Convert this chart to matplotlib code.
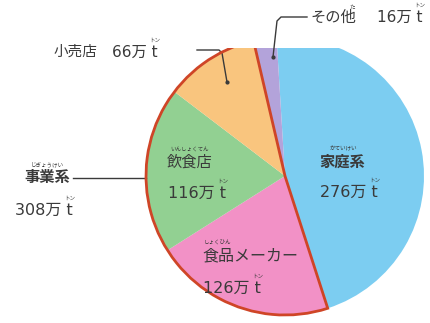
import matplotlib
matplotlib.use("Agg")
import matplotlib.pyplot as plt
from matplotlib.patches import Wedge, Rectangle

plt.rcParams['font.family'] = ['Noto Sans CJK JP', 'DejaVu Sans']

# データ（万t）
labels = ['家庭系', '食品メーカー', '飲食店', '小売店', 'その他']
values = [276, 126, 116, 66, 16]
colors = ['#7ccdf1', '#f291c6', '#92d092', '#f9c57e', '#b3a3da']
business = ['食品メーカー', '飲食店', '小売店']
business_total = 308

W, H = 430, 323
TXT = '#3a3a3a'
RED = '#cf4527'
NUM_FONT = ['DejaVu Sans', 'Noto Sans CJK JP']

fig = plt.figure(figsize=(W / 100, H / 100), dpi=100)
ax = fig.add_axes([0, 0, 1, 1])

def Y(y):
    return H - y

cx, cy, r = 285, Y(176), 139
start = 93.5
wedges, _ = ax.pie(values, colors=colors, startangle=start, counterclock=False,
                   center=(cx, cy), radius=r, wedgeprops=dict(linewidth=0))
ax.set_xlim(0, W)
ax.set_ylim(0, H)
ax.set_aspect('equal')
ax.axis('off')

clip = Rectangle((0, 0), W, Y(48), transform=ax.transData)
for w in wedges:
    w.set_clip_on(True)
    w.set_clip_path(clip)

# 事業系の赤い枠
total = sum(values)
blue_end = start - 360 * values[0] / total
biz_sum = sum(v for l, v in zip(labels, values) if l in business)
biz_end = blue_end - 360 * biz_sum / total
outline = Wedge((cx, cy), r, biz_end + 360, blue_end + 360, fill=False,
                edgecolor=RED, linewidth=2, zorder=3)
ax.add_patch(outline)
outline.set_clip_on(True)
outline.set_clip_path(clip)

def t(x, y, s, size=11, ha='center', **kw):
    ax.text(x, Y(y), s, fontsize=size, color=TXT, ha=ha, va='center', **kw)

def ruby(x, y, s):
    ax.text(x, Y(y), s, fontsize=4, color=TXT, ha='center', va='center')

def amount(x, y, v, size=12):
    txt = ax.text(x, Y(y), f'{v}万 t', fontsize=size, color=TXT, ha='left',
                  va='center', family=NUM_FONT)
    fig.canvas.draw()
    bb = txt.get_window_extent()
    ruby(bb.x1 - 3, y - 12, 'トン')

# 内側のラベル
t(342, 162, labels[0], 11, fontweight='bold')
ruby(343, 148, 'かていけい')
amount(320, 192, values[0], 11.5)

t(250, 256, labels[1], 11.5)
ruby(217, 243, 'しょくひん')
amount(203, 288, values[1], 11.5)

t(190, 162, labels[2], 11)
ruby(190, 150, 'いんしょくてん')
amount(168, 193, values[2], 11.5)

# 外側のラベル
t(75, 52, labels[3], 10.5)
amount(112, 52, values[3], 11)
ax.plot([197, 219, 222, 227], [Y(50), Y(50), Y(53), Y(82)], color=TXT, lw=1)
ax.plot(227, Y(82), 'o', color=TXT, ms=2)

t(333, 17, labels[4], 11)
ruby(352, 7, 'た')
amount(377, 17, values[4], 11)
ax.plot([307, 281, 277, 273], [Y(17), Y(17), Y(21), Y(57)], color=TXT, lw=1)
ax.plot(273, Y(57), 'o', color=TXT, ms=2)

t(47, 177, '事業系', 11, fontweight='bold')
ruby(47, 165, 'じぎょうけい')
amount(15, 210, business_total, 11.5)
ax.plot([73, 146], [Y(178), Y(178)], color=TXT, lw=1)

fig.savefig('out.png', dpi=100)
